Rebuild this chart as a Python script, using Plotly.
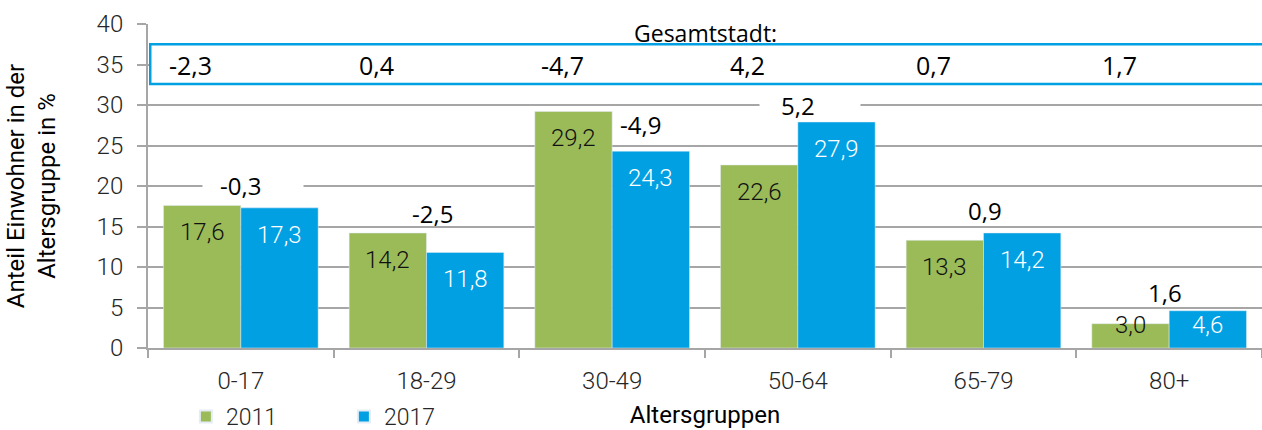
import plotly.graph_objects as go

categories = ["0-17", "18-29", "30-49", "50-64", "65-79", "80+"]
v2011 = [17.6, 14.2, 29.2, 22.6, 13.3, 3.0]
v2017 = [17.3, 11.8, 24.3, 27.9, 14.2, 4.6]
diff = [-0.3, -2.5, -4.9, 5.2, 0.9, 1.6]
city_diff = [-2.3, 0.4, -4.7, 4.2, 0.7, 1.7]
y_ticks = [0, 5, 10, 15, 20, 25, 30, 35, 40]

GREEN = "#9BBB59"
BLUE = "#00A0E3"
GRID = "#A6A6A6"
LABEL_FONT = "Roboto"
CAL_FONT = "Open Sans"

W, H = 1262, 430
M_L, M_R, M_T, M_B = 148, 0, 24, 82
Y_MAX = 40
PX_PER_UNIT = (H - M_T - M_B) / Y_MAX
CAT_W = (W - M_L - M_R) / len(categories)
BAR_W = CAT_W * (1 - 0.167) / 2


def fmt(v):
    return f"{v:.1f}".replace(".", ",")


fig = go.Figure()
fig.add_trace(go.Bar(x=categories, y=v2011, name="2011", marker_color=GREEN))
fig.add_trace(go.Bar(x=categories, y=v2017, name="2017", marker_color=BLUE))

# value labels inside the bars (Excel "inside end" style)
for vals, side, color in ((v2011, -1, "#111111"), (v2017, 1, "white")):
    for c, v in zip(categories, vals):
        h = v * PX_PER_UNIT
        if h - 27 >= 23:
            y, ys = v, -27
        else:
            y, ys = 0, 23
        fig.add_annotation(
            x=c, y=y, xref="x", yref="y", text=fmt(v), showarrow=False,
            xshift=side * BAR_W / 2, yshift=ys,
            font=dict(family=LABEL_FONT, size=24, color=color, weight=300),
        )

# difference labels above bar pairs (pixel offsets are styling)
label_dy = [20, 19, -13, 17, 22, 18]
label_dx = [0, 6, 28, 0, 1, -4]
label_bg = [True, False, False, True, False, False]
for i, c in enumerate(categories):
    top = max(v2011[i], v2017[i])
    if label_bg[i]:
        fig.add_annotation(
            x=c, y=top, xref="x", yref="y", text=" ", showarrow=False,
            bgcolor="white", width=100, height=16, borderpad=0,
            xshift=label_dx[i] + 12, yshift=label_dy[i],
        )
    fig.add_annotation(
        x=c, y=top, xref="x", yref="y", text=fmt(diff[i]), showarrow=False,
        xshift=label_dx[i], yshift=label_dy[i],
        font=dict(family=CAL_FONT, size=24, color="black"),
    )

# Gesamtstadt box
fig.add_shape(type="rect", xref="paper", yref="y", x0=0.002, x1=1.01, y0=32.6, y1=37.5,
              line=dict(color=BLUE, width=2.5), fillcolor="white", layer="above")
fig.add_annotation(x=0.5, y=38.85, xref="paper", yref="y", text="Gesamtstadt:",
                   showarrow=False, font=dict(family=CAL_FONT, size=23, color="black"))
for i, c in enumerate(categories):
    fig.add_annotation(
        x=c, y=35, xref="x", yref="y", text=fmt(city_diff[i]), showarrow=False,
        xshift=-50, font=dict(family=CAL_FONT, size=25, color="black"),
    )

fig.update_layout(
    width=W, height=H,
    margin=dict(l=M_L, r=M_R, t=M_T, b=M_B, autoexpand=False),
    plot_bgcolor="white", paper_bgcolor="white",
    barmode="group", bargap=0.167, bargroupgap=0,
    font=dict(family=LABEL_FONT, size=22, color="#262626"),
    showlegend=True,
    legend=dict(orientation="h", x=0.034, y=-0.145, xanchor="left", yanchor="top",
                font=dict(family=LABEL_FONT, size=23, color="#262626", weight=300),
                entrywidth=113, entrywidthmode="pixels", itemsizing="constant",
                bgcolor="rgba(0,0,0,0)"),
    xaxis=dict(
        automargin=False,
        title=dict(text="Altersgruppen", font=dict(family=LABEL_FONT, size=24, color="black"), standoff=12),
        tickfont=dict(family=LABEL_FONT, size=24, color="#262626", weight=300),
        ticklabelstandoff=10,
        showline=True, linecolor=GRID, linewidth=2,
        ticks="outside", tickson="boundaries", tickcolor=GRID, ticklen=8, tickwidth=2,
        showgrid=False,
    ),
    yaxis=dict(
        automargin=False,
        title=dict(text="Anteil Einwohner in der<br>Altersgruppe in %",
                   font=dict(family=LABEL_FONT, size=24, color="black"), standoff=34),
        range=[0, Y_MAX], tickvals=y_ticks,
        tickfont=dict(family=LABEL_FONT, size=24, color="#262626", weight=300),
        ticklabelstandoff=9,
        showline=True, linecolor=GRID, linewidth=2,
        ticks="outside", tickcolor=GRID, ticklen=9, tickwidth=2,
        showgrid=True, gridcolor=GRID, gridwidth=2, zeroline=False,
    ),
)

fig.write_html("out.html", config={"displayModeBar": False},
               post_script="document.body.style.margin='0';document.body.style.overflow='hidden';")
